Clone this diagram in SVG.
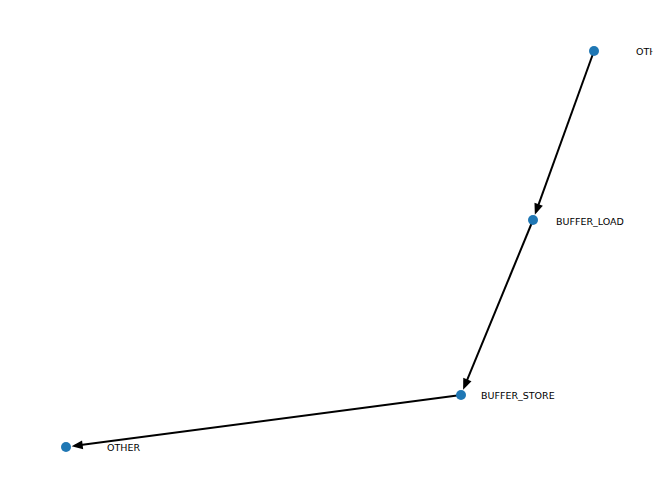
<svg xmlns="http://www.w3.org/2000/svg" width="660" height="499" viewBox="0 0 660 499">
<style>
.node{fill:#1f77b4;}
.lbl{font-family:"DejaVu Sans",sans-serif;font-size:9.5px;fill:#000;}
.edge{stroke:#000;stroke-width:2;fill:none;}
</style>
<defs>
<marker id="arr" markerUnits="userSpaceOnUse" markerWidth="20" markerHeight="20" viewBox="-12 -6 18 12" refX="0" refY="0" orient="auto" overflow="visible">
<path d="M-7,-4 L3,0 L-7,4 Z" fill="#000"/>
</marker>
<clipPath id="ax"><rect x="0" y="0" width="652.5" height="499"/></clipPath>
</defs>
<rect width="660" height="499" fill="#fff"/>
<g id="connectors">
<line class="edge" x1="594" y1="51" x2="536.0" y2="211.6" marker-end="url(#arr)"/>
<line class="edge" x1="533" y1="220" x2="464.4" y2="386.7" marker-end="url(#arr)"/>
<line class="edge" x1="461" y1="395" x2="74.9" y2="445.8" marker-end="url(#arr)"/>
</g>
<g id="n1"><circle class="node" cx="594" cy="51" r="5"/><text class="lbl" x="636" y="54.5" clip-path="url(#ax)">OTHER</text></g>
<g id="n2"><circle class="node" cx="533" cy="220" r="5"/><text class="lbl" x="556" y="224.5">BUFFER_LOAD</text></g>
<g id="n3"><circle class="node" cx="461" cy="395" r="5"/><text class="lbl" x="481" y="399">BUFFER_STORE</text></g>
<g id="n4"><circle class="node" cx="66" cy="447" r="5"/><text class="lbl" x="107" y="451">OTHER</text></g>
</svg>
